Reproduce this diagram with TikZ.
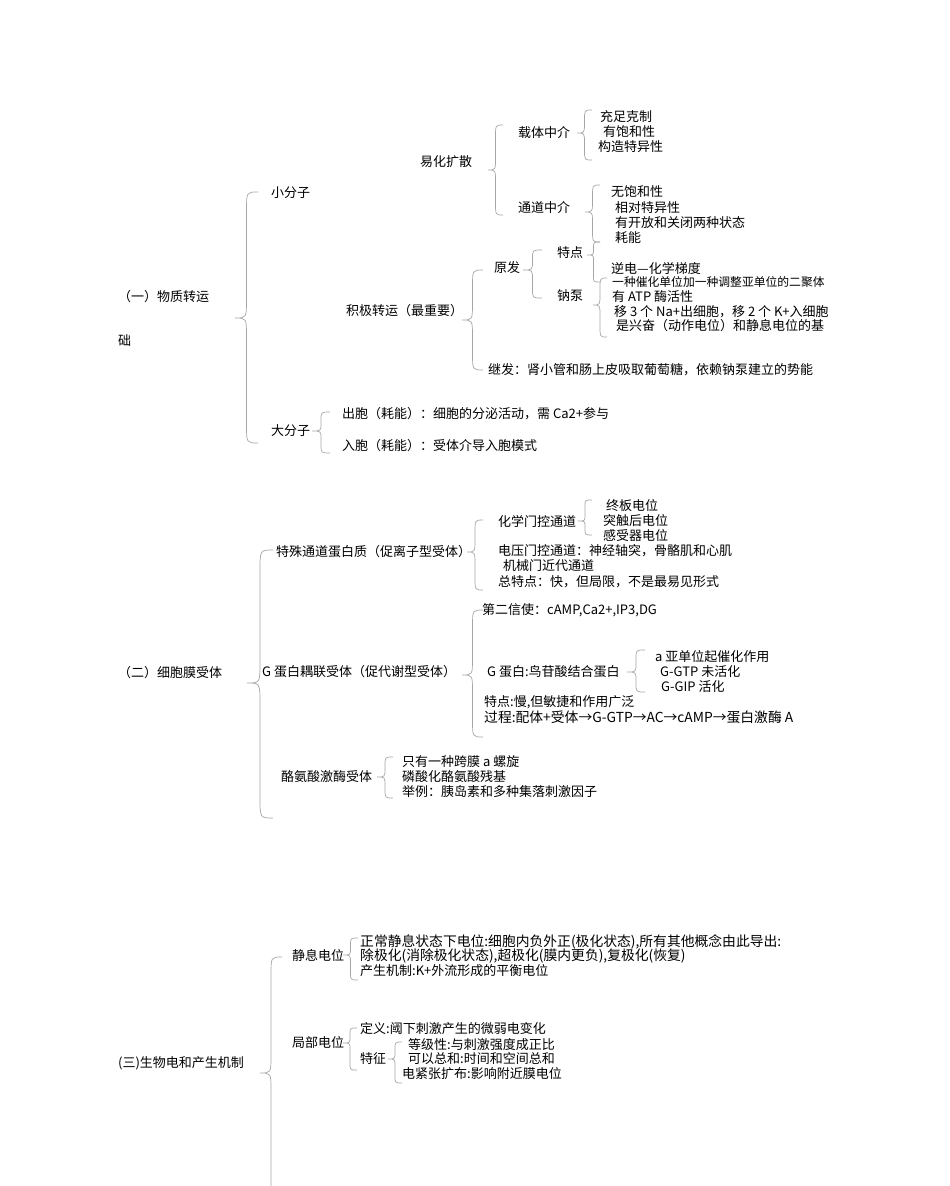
\documentclass[tikz,border=0pt]{standalone}
\usepackage{fontspec}
\setmainfont{Noto Sans CJK SC}
\definecolor{bracegray}{HTML}{A6A6A6}
\tikzset{
  brc/.style={draw=bracegray, line width=0.7pt},
  txt/.style={anchor=west, inner sep=0pt, font=\fontsize{13}{15}\selectfont},
  widetxt/.style={anchor=west, inner sep=0pt, font=\fontsize{13.8}{15}\selectfont},
  smalltxt/.style={anchor=west, inner sep=0pt, font=\fontsize{11.8}{13}\selectfont},
}
% \cbrace{xleft}{xright}{ytop}{ytip}{ybottom}
\newcommand\cbrace[5]{%
  \pgfmathsetmacro\cbxm{(#1+#2)/2}%
  \pgfmathsetmacro\cbrr{min(0.8*(#2-#1),0.45*(#4-#3),0.45*(#5-#4))}%
  \draw[brc] (#2,#3) .. controls (\cbxm,#3) .. (\cbxm,#3+\cbrr)
    -- (\cbxm,#4-\cbrr) .. controls (\cbxm,#4) .. (#1,#4)
    .. controls (\cbxm,#4) .. (\cbxm,#4+\cbrr)
    -- (\cbxm,#5-\cbrr) .. controls (\cbxm,#5) .. (#2,#5);}
\begin{document}
\begin{tikzpicture}[x=1pt,y=-1pt]
\useasboundingbox (0,0) rectangle (950,1186);
\clip (0,0) rectangle (950,1186);
\fill[white] (0,0) rectangle (950,1186);

% ===== Section 1 =====
\node[txt] (s1) at (118,297) {（一）物质转运};
\node[txt] (s1b) at (118,341) {础};
\node[txt] (xfz) at (271,193) {小分子};
\node[txt] (dfz) at (271,431) {大分子};
\node[txt] (yhks) at (420,162) {易化扩散};
\node[txt] (ztzj) at (518,133) {载体中介};
\node[txt] (tdzj) at (518,208) {通道中介};
\node[txt] (a1) at (600,117) {充足克制};
\node[txt] (a2) at (603,132) {有饱和性};
\node[txt] (a3) at (598,147) {构造特异性};
\node[txt] (b1) at (611,192) {无饱和性};
\node[txt] (b2) at (615,208) {相对特异性};
\node[txt] (b3) at (615,223) {有开放和关闭两种状态};
\node[txt] (b4) at (615,238) {耗能};
\node[txt] (jjzy) at (346,311) {积极转运（最重要）};
\node[txt] (yf) at (494,268) {原发};
\node[txt] (td) at (557,253) {特点};
\node[txt] (nb) at (557,296) {钠泵};
\node[txt] (c1) at (611,268) {逆电—化学梯度};
\node[smalltxt] (n1) at (612,282) {一种催化单位加一种调整亚单位的二聚体};
\node[txt] (n2) at (612,297) {有 ATP 酶活性};
\node[txt] (n3) at (614,312) {移 3 个 Na+出细胞，移 2 个 K+入细胞};
\node[txt] (n4) at (616,326) {是兴奋（动作电位）和静息电位的基};
\node[txt] (jf) at (488,370) {继发：肾小管和肠上皮吸取葡萄糖，依赖钠泵建立的势能};
\node[txt] (cb) at (342,414) {出胞（耗能）：细胞的分泌活动，需 Ca2+参与};
\node[txt] (rb) at (342,446) {入胞（耗能）：受体介导入胞模式};

\cbrace{235}{258}{192}{318}{443}
\cbrace{488}{503}{125}{170}{215}
\cbrace{577}{592}{110}{133}{160}
\cbrace{585}{600}{185}{212}{242}
\cbrace{587}{600}{242}{255}{282}
\cbrace{523}{542}{250}{270}{298}
\cbrace{593}{607}{278}{305}{337}
\cbrace{462}{483}{270}{320}{370}
\cbrace{312}{330}{412}{431}{453}

% ===== Section 2 =====
\node[txt] (s2) at (118,673) {（二）细胞膜受体};
\node[txt] (tstd) at (276,552) {特殊通道蛋白质（促离子型受体）};
\node[txt] (gdob) at (262,672) {G 蛋白耦联受体（促代谢型受体）};
\node[txt] (lasj) at (281,777) {酪氨酸激酶受体};
\node[txt] (hxmk) at (498,521) {化学门控通道};
\node[txt] (d1) at (606,506) {终板电位};
\node[txt] (d2) at (603,521) {突触后电位};
\node[txt] (d3) at (603,536) {感受器电位};
\node[txt] (dy) at (498,551) {电压门控通道：神经轴突，骨骼肌和心肌};
\node[txt] (jx) at (503,566) {机械门近代通道};
\node[txt] (ztd) at (498,582) {总特点：快，但局限，不是最易见形式};
\node[txt] (dexs) at (482,610) {第二信使：cAMP,Ca2+,IP3,DG};
\node[txt] (gdb2) at (487,672) {G 蛋白:鸟苷酸结合蛋白};
\node[txt] (e1) at (655,657) {a 亚单位起催化作用};
\node[txt] (e2) at (660,672) {G-GTP 未活化};
\node[txt] (e3) at (661,687) {G-GIP 活化};
\node[txt] (tdm) at (484,702) {特点:慢,但敏捷和作用广泛};
\node[widetxt] (gc) at (484,717) {过程:配体+受体→G-GTP→AC→cAMP→蛋白激酶 A};
\node[txt] (f1) at (402,762) {只有一种跨膜 a 螺旋};
\node[txt] (f2) at (402,777) {磷酸化酪氨酸残基};
\node[txt] (f3) at (402,792) {举例：胰岛素和多种集落刺激因子};

\cbrace{247}{273}{550}{683}{818}
\cbrace{467}{483}{520}{552}{590}
\cbrace{578}{592}{500}{521}{535}
\cbrace{462}{483}{610}{675}{737}
\cbrace{627}{645}{650}{672}{692}
\cbrace{377}{393}{757}{777}{798}

% ===== Section 3 =====
\node[txt] (s3) at (118,1063) {(三)生物电和产生机制};
\node[txt] (jxdw) at (292,955) {静息电位};
\node[txt] (jbdw) at (292,1043) {局部电位};
\node[widetxt] (g1) at (360,942) {正常静息状态下电位:细胞内负外正(极化状态),所有其他概念由此导出:};
\node[widetxt] (g2) at (360,956) {除极化(消除极化状态),超极化(膜内更负),复极化(恢复)};
\node[txt] (g3) at (360,971) {产生机制:K+外流形成的平衡电位};
\node[txt] (h1) at (360,1029) {定义:阈下刺激产生的微弱电变化};
\node[txt] (tz) at (360,1059) {特征};
\node[txt] (k1) at (408,1045) {等级性:与刺激强度成正比};
\node[txt] (k2) at (408,1059) {可以总和:时间和空间总和};
\node[txt] (k3) at (402,1074) {电紧张扩布:影响附近膜电位};

\cbrace{260}{282}{957}{1073}{1205}
\cbrace{343}{358}{938}{955}{980}
\cbrace{343}{357}{1028}{1043}{1070}
\cbrace{388}{402}{1042}{1059}{1083}
\end{tikzpicture}
\end{document}
